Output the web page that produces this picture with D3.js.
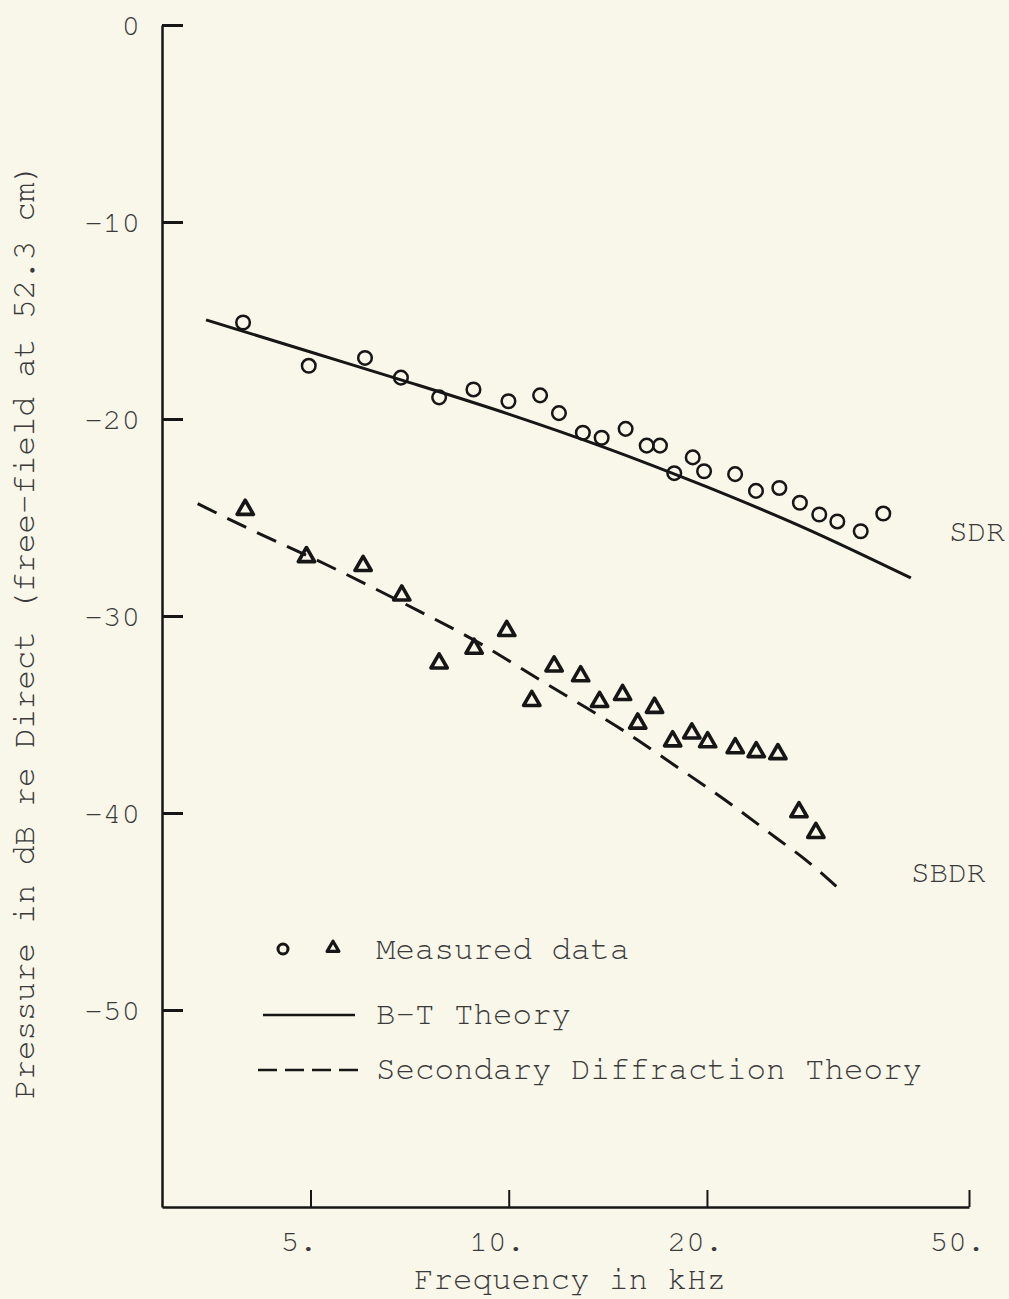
<!DOCTYPE html>
<html>
<head>
<meta charset="utf-8">
<script src="https://cdn.jsdelivr.net/npm/d3@7"></script>
<style>
  html, body { margin: 0; padding: 0; background: #f8f7ea; }
  svg { display: block; }
  text { font-family: "Nimbus Mono PS", "Nimbus Mono L", "FreeMono", "Courier New", "Liberation Mono", monospace; fill: #3a3a3a; }
</style>
</head>
<body>
<svg id="chart" width="1009" height="1299"></svg>
<script>
// ---------- data (frequency in kHz, level in dB) ----------
const sdrFreq = [3.95, 4.97, 6.05, 6.86, 7.84, 8.84, 9.99, 11.16, 11.92, 12.96, 13.84, 15.05, 16.2, 16.97, 17.84, 19.03, 19.8, 22.07, 23.74, 25.76, 27.68, 29.62, 31.55, 34.24, 37.05];
const sdrDb   = [-15.1, -17.3, -16.9, -17.9, -18.9, -18.5, -19.1, -18.8, -19.7, -20.7, -20.95, -20.5, -21.35, -21.35, -22.75, -21.95, -22.65, -22.8, -23.65, -23.5, -24.25, -24.85, -25.2, -25.7, -24.8];

const sbdrFreq = [3.98, 4.93, 6.01, 6.88, 7.84, 8.86, 9.93, 10.84, 11.72, 12.86, 13.74, 14.89, 15.7, 16.65, 17.74, 18.97, 20.05, 22.08, 23.76, 25.63, 27.59, 29.27];
const sbdrDb   = [-24.5, -26.9, -27.35, -28.85, -32.3, -31.55, -30.65, -34.2, -32.45, -32.95, -34.25, -33.9, -35.35, -34.55, -36.25, -35.85, -36.3, -36.6, -36.8, -36.9, -39.85, -40.9];

const btFreq = [3.47, 5, 7, 10, 14, 20, 28, 40.8];
const btDb   = [-14.97, -16.6, -18.1, -19.75, -21.45, -23.45, -25.5, -28.07];

const sdtFreq = [3.37, 4.02, 5.26, 6.96, 9.04, 11.16, 12.46, 15.02, 17.74, 21.31, 25.52, 28.27, 31.85];
const sdtDb   = [-24.3, -25.55, -27.36, -29.39, -31.39, -33.25, -34.21, -35.87, -37.51, -39.34, -41.28, -42.39, -43.9];

const xTickValues = [5, 10, 20, 50];
const xTickLabels = ["5.", "10.", "20.", "50."];
const yTickValues = [0, -10, -20, -30, -40, -50];
const yTickLabels = ["0", "-10", "-20", "-30", "-40", "-50"];

const xTitle = "Frequency in kHz";
const yTitle = "Pressure in dB re Direct (free-field at 52.3 cm)";
const legendLabels = ["Measured data", "B-T Theory", "Secondary Diffraction Theory"];
const seriesLabels = ["SDR", "SBDR"];

// ---------- scales ----------
const ink = "#161616";
const txt = "#3a3a3a";
const svg = d3.select("#chart");
svg.append("rect").attr("width", 1009).attr("height", 1299).attr("fill", "#f8f7ea");

const x = d3.scaleLog().domain([2.975, 50]).range([162, 969]);
const y = d3.scaleLinear().domain([0, -60]).range([25, 1207]);

// ---------- axes ----------
const yAxis = d3.axisLeft(y)
  .tickValues(yTickValues)
  .tickFormat((d, i) => yTickLabels[i])
  .tickSizeInner(-21).tickSizeOuter(0).tickPadding(22);
const gy = svg.append("g").attr("transform", "translate(162,0)").call(yAxis);
gy.attr("font-family", null);
gy.select(".domain").attr("stroke", ink).attr("stroke-width", 2.5);
gy.selectAll(".tick line").attr("stroke", ink).attr("stroke-width", 3);
gy.selectAll(".tick text").attr("font-size", 31).attr("fill", txt);

const xAxis = d3.axisBottom(x)
  .tickValues(xTickValues)
  .tickFormat((d, i) => xTickLabels[i])
  .tickSizeInner(-17).tickSizeOuter(0).tickPadding(22);
const gx = svg.append("g").attr("transform", "translate(0,1207)").call(xAxis);
gx.attr("font-family", null);
gx.select(".domain").attr("stroke", ink).attr("stroke-width", 2.5);
gx.selectAll(".tick line").attr("stroke", ink).attr("stroke-width", 2);
gx.selectAll(".tick text").attr("font-size", 31).attr("fill", txt).attr("dx", -12);

// axis titles
svg.append("text")
  .attr("x", 570).attr("y", 1289)
  .attr("text-anchor", "middle").attr("font-size", 32.5)
  .text(xTitle);
svg.append("text")
  .attr("transform", "translate(34,631) rotate(-90)")
  .attr("text-anchor", "middle").attr("font-size", 32.5)
  .text(yTitle);

// ---------- theory curves ----------
const line = d3.line().x(d => x(d[0])).y(d => y(d[1])).curve(d3.curveMonotoneX);
svg.append("path")
  .datum(btFreq.map((f, i) => [f, btDb[i]]))
  .attr("d", line).attr("fill", "none").attr("stroke", ink).attr("stroke-width", 3);
svg.append("path")
  .datum(sdtFreq.map((f, i) => [f, sdtDb[i]]))
  .attr("d", line).attr("fill", "none").attr("stroke", ink).attr("stroke-width", 3)
  .attr("stroke-dasharray", "21,12");

// ---------- measured points ----------
svg.append("g").selectAll("circle")
  .data(sdrFreq.map((f, i) => [f, sdrDb[i]]))
  .join("circle")
  .attr("cx", d => x(d[0])).attr("cy", d => y(d[1]))
  .attr("r", 6.8).attr("fill", "none").attr("stroke", ink).attr("stroke-width", 2.5);

const tri = d3.symbol().type(d3.symbolTriangle).size(115);
svg.append("g").selectAll("path")
  .data(sbdrFreq.map((f, i) => [f, sbdrDb[i]]))
  .join("path")
  .attr("transform", d => `translate(${x(d[0])},${y(d[1]) + 2})`)
  .attr("d", tri).attr("fill", "none").attr("stroke", ink)
  .attr("stroke-width", 3.6).attr("stroke-linejoin", "round");

// series labels
svg.append("text").attr("x", 949).attr("y", 541).attr("font-size", 31).text(seriesLabels[0]);
svg.append("text").attr("x", 911).attr("y", 882).attr("font-size", 31).text(seriesLabels[1]);

// ---------- legend ----------
const lg = svg.append("g");
lg.append("circle").attr("cx", 283).attr("cy", 949).attr("r", 5)
  .attr("fill", "none").attr("stroke", ink).attr("stroke-width", 3);
lg.append("path").attr("transform", "translate(333,948)")
  .attr("d", d3.symbol().type(d3.symbolTriangle).size(60))
  .attr("fill", "none").attr("stroke", ink).attr("stroke-width", 3.2).attr("stroke-linejoin", "round");
lg.append("line").attr("x1", 263).attr("x2", 355).attr("y1", 1015).attr("y2", 1015)
  .attr("stroke", ink).attr("stroke-width", 2.5);
lg.append("line").attr("x1", 258).attr("x2", 358).attr("y1", 1070).attr("y2", 1070)
  .attr("stroke", ink).attr("stroke-width", 2.5).attr("stroke-dasharray", "19,8");
const legendY = [959, 1024, 1079];
legendLabels.forEach((t, i) => {
  lg.append("text").attr("x", 376).attr("y", legendY[i]).attr("font-size", 32.5).text(t);
});
</script>
</body>
</html>
